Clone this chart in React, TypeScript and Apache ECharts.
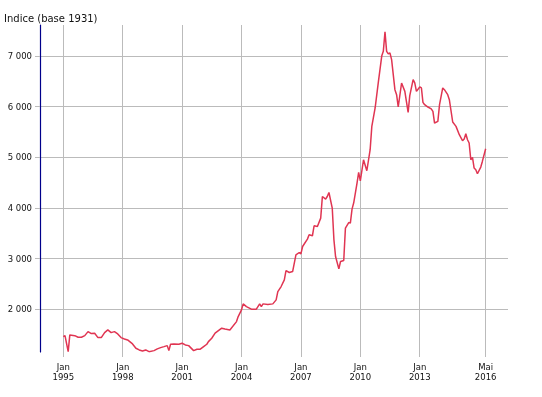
import React, { useEffect, useRef } from "react";
import * as echarts from "echarts";

const TITLE = "Indice (base 1931)";

const dates: string[] = [
  "1995-01","1995-02","1995-04","1995-05","1995-08","1995-10","1995-12",
  "1996-02","1996-04","1996-06","1996-08","1996-10","1996-12",
  "1997-02","1997-04","1997-06","1997-08","1997-10","1997-12",
  "1998-02","1998-04","1998-07","1998-09","1998-11",
  "1999-01","1999-03","1999-05","1999-08","1999-10","1999-12",
  "2000-02","2000-04","2000-05","2000-06","2000-08","2000-11",
  "2001-01","2001-03","2001-05","2001-08","2001-10","2001-12",
  "2002-02","2002-04","2002-05","2002-07","2002-09",
  "2003-01","2003-03","2003-06","2003-10","2003-11",
  "2004-01","2004-02","2004-04","2004-07","2004-10","2004-12",
  "2005-01","2005-02","2005-05","2005-08","2005-10","2005-11",
  "2006-01","2006-03","2006-04","2006-06","2006-08","2006-10","2006-12",
  "2007-01","2007-02","2007-05","2007-06","2007-08","2007-09","2007-11",
  "2008-01","2008-02","2008-04","2008-05","2008-06","2008-08","2008-09","2008-10","2008-12",
  "2009-01","2009-03","2009-04","2009-06","2009-07","2009-08","2009-09","2009-11","2009-12",
  "2010-01","2010-03","2010-05","2010-07","2010-08","2010-10","2010-12",
  "2011-02","2011-03","2011-04","2011-05","2011-06","2011-07","2011-08","2011-10","2011-11","2011-12",
  "2012-02","2012-04","2012-06","2012-07","2012-09","2012-10","2012-11",
  "2013-01","2013-02","2013-03","2013-04","2013-06","2013-08","2013-09","2013-10","2013-12",
  "2014-01","2014-03","2014-04","2014-06","2014-07","2014-09","2014-11",
  "2015-01","2015-03","2015-04","2015-05","2015-06","2015-07","2015-08","2015-09","2015-10","2015-11","2015-12",
  "2016-02","2016-03","2016-05",
];

const values: number[] = [
  1459,1478,1162,1492,1478,1447,1447,
  1478,1557,1518,1526,1439,1439,
  1538,1591,1538,1557,1512,1439,
  1413,1393,1314,1229,1196,
  1176,1196,1162,1182,1216,1241,
  1261,1281,1182,1308,1314,1308,
  1328,1295,1281,1182,1210,1210,
  1261,1308,1360,1427,1526,
  1625,1610,1591,1755,1854,
  1986,2105,2051,2000,2000,2105,
  2051,2105,2091,2105,2184,2348,
  2447,2579,2763,2724,2743,3073,3119,
  3093,3237,3383,3468,3448,3646,3632,
  3798,4225,4174,4225,4304,3996,3369,3039,2796,
  2941,2960,3600,3711,3699,3976,4100,4490,4700,
  4535,4950,4733,5148,5609,5972,6497,
  7005,7090,7474,7090,7039,7059,6926,6333,6234,5991,
  6465,6300,5885,6215,6531,6466,6300,
  6387,6367,6082,6037,5991,5955,5905,5675,5707,
  6037,6367,6333,6234,6136,5695,5609,
  5444,5326,5359,5464,5345,5280,4950,4996,4786,4753,4674,
  4806,4917,5168,
];

const xTickDates: string[] = ["1995-01","1998-01","2001-01","2004-01","2007-01","2010-01","2013-01","2016-05"];
const yTickValues: number[] = [2000, 3000, 4000, 5000, 6000, 7000];
const monthNames: string[] = ["Jan","Fév","Mar","Avr","Mai","Juin","Juil","Aoû","Sep","Oct","Nov","Déc"];

const toTs = (s: string) => {
  const [y, m] = s.split("-").map(Number);
  return Date.UTC(y, m - 1, 1);
};

export default function App() {
  const ref = useRef<HTMLDivElement>(null);
  useEffect(() => {
    if (!ref.current) return;
    const chart = echarts.init(ref.current, null, { renderer: "svg" });
    const font = "DejaVu Sans, Verdana, sans-serif";
    const xTicks = xTickDates.map(toTs);
    chart.setOption({
      animation: false,
      title: {
        text: TITLE,
        left: 4,
        top: 13,
        padding: 0,
        textStyle: { fontFamily: font, fontSize: 10, fontWeight: "normal", color: "#111" },
      },
      grid: { left: 40, top: 25, right: 34, bottom: 45, containLabel: false },
      xAxis: {
        type: "value",
        min: Date.UTC(1993, 9, 28),
        max: Date.UTC(2017, 5, 17),
        axisLine: { show: false },
        axisTick: { show: true, length: 5, lineStyle: { color: "#bbbbbb" }, customValues: xTicks },
        axisLabel: {
          customValues: xTicks,
          fontFamily: font,
          fontSize: 8.5,
          lineHeight: 10,
          color: "#111",
          margin: 10,
          formatter: (v: number) => {
            const d = new Date(v);
            return `${monthNames[d.getUTCMonth()]}\n${d.getUTCFullYear()}`;
          },
        },
        splitLine: { show: true, lineStyle: { color: "#bbbbbb", width: 1 } },
      },
      yAxis: {
        type: "value",
        min: 1155,
        max: 7610,
        axisLine: { show: true, lineStyle: { color: "#00008b", width: 1.2 } },
        axisTick: { show: true, length: 5, lineStyle: { color: "#bbbbbb" }, customValues: yTickValues },
        axisLabel: {
          customValues: yTickValues,
          fontFamily: font,
          fontSize: 8.5,
          color: "#111",
          margin: 8,
          formatter: (v: number) => String(v).replace(/\B(?=(\d{3})+(?!\d))/g, " "),
        },
        splitLine: { show: true, lineStyle: { color: "#bbbbbb", width: 1 } },
      },
      series: [
        {
          type: "line",
          data: dates.map((d, i) => [toTs(d), values[i]]),
          showSymbol: false,
          lineStyle: { color: "#e03552", width: 1.5 },
          itemStyle: { color: "#e03552" },
        },
      ],
    });
    return () => chart.dispose();
  }, []);
  return <div ref={ref} style={{ position: "fixed", left: 0, top: 0, width: 542, height: 397 }} />;
}
